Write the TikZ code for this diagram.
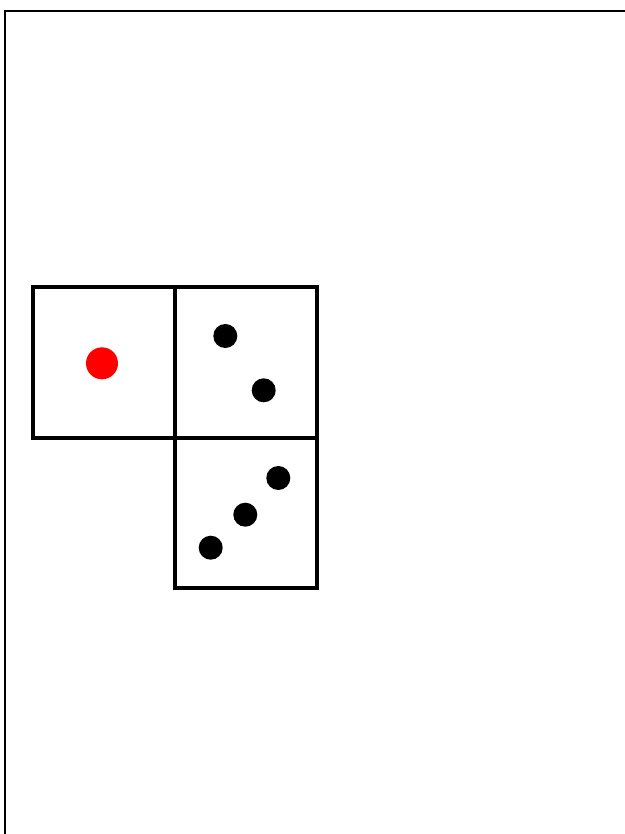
\documentclass[tikz,border=0pt]{standalone}
\begin{document}
\begin{tikzpicture}[x=1pt,y=-1pt,
  face/.style={draw=black,line width=4pt,inner sep=0pt,minimum width=142pt,minimum height=150.5pt},
  pip/.style={circle,fill=black,inner sep=0pt,minimum size=24pt},
  redpip/.style={circle,fill=red,inner sep=0pt,minimum size=32pt}]
\useasboundingbox (0,0) rectangle (624,834);
\draw[line width=2pt] (5,840) -- (5,11) -- (630,11);
\node[face] (f1) at (104,362.7) {};
\node[face] (f2) at (246,362.3) {};
\node[face] (f3) at (246,512.8) {};
\node[redpip] (r1) at (102,363.3) {};
\node[pip] (p1) at (225.3,336) {};
\node[pip] (p2) at (263.7,390.3) {};
\node[pip] (p3) at (278.3,478) {};
\node[pip] (p4) at (245.3,514.7) {};
\node[pip] (p5) at (210.7,547.7) {};
\end{tikzpicture}
\end{document}
